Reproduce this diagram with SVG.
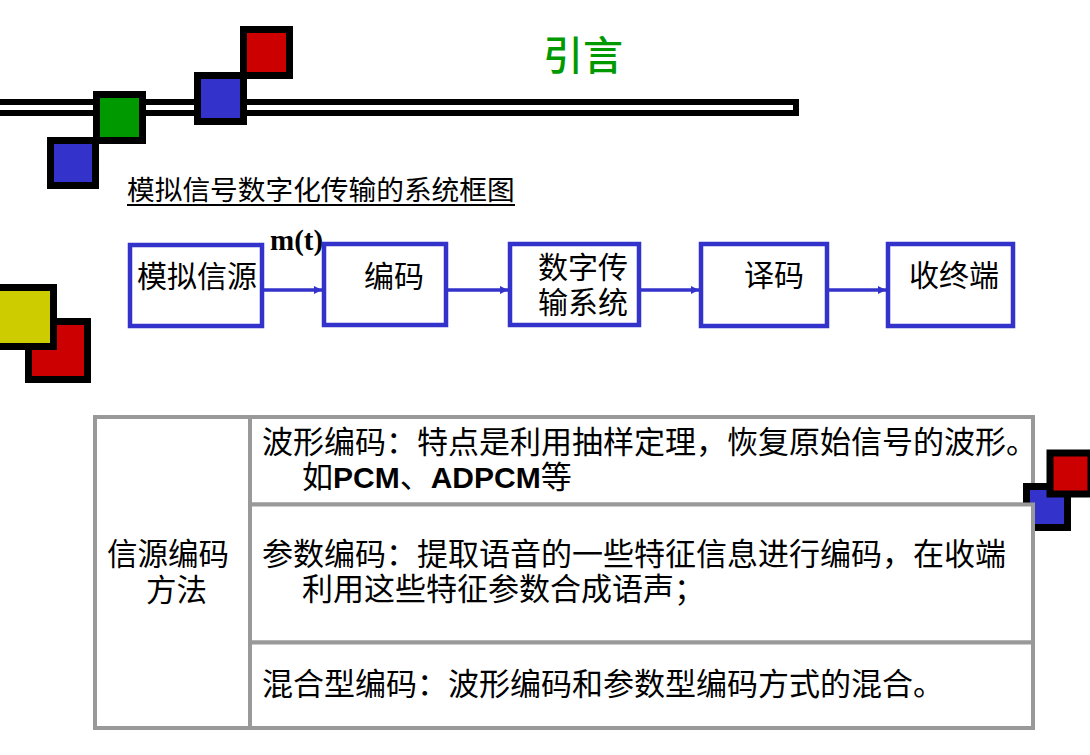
<svg xmlns="http://www.w3.org/2000/svg" width="1090" height="755" viewBox="0 0 1090 755">
<defs>
<style>
.sq{stroke:#000;stroke-width:7}
.blue{fill:#3333cc}.red{fill:#cc0000}.green{fill:#009900}.yellow{fill:#cccc00}
.box{fill:#fff;stroke:#3333cc;stroke-width:4.5}
.cell{fill:#fff;stroke:#999;stroke-width:4}
.cn{font-family:"Liberation Serif","Noto Sans CJK SC",serif;fill:#000}
.lat{font-family:"Liberation Sans",Arial,sans-serif;font-weight:bold}
.conn{stroke:#3333cc;stroke-width:3.5;fill:none}
</style>
<marker id="ah" viewBox="0 0 8 8" refX="8" refY="4" markerWidth="8" markerHeight="8" markerUnits="userSpaceOnUse" orient="auto">
<path d="M0,0 L8,4 L0,8 Z" fill="#3333cc"/>
</marker>
</defs>
<rect width="1090" height="755" fill="#fff"/>

<g id="decor-top">
<rect x="-10" y="102" width="806" height="11" fill="#fff" stroke="#000" stroke-width="6"/>
<rect class="sq green" x="96.5" y="94.5" width="46" height="46"/>
<rect class="sq blue" x="50.5" y="140.5" width="45" height="45"/>
<rect class="sq blue" x="197.5" y="75.5" width="46" height="46"/>
<rect class="sq red" x="243.5" y="29.5" width="46" height="46"/>
</g>

<g id="decor-left">
<rect class="sq red" x="28.5" y="321.5" width="59" height="58"/>
<rect class="sq yellow" x="-5.5" y="287.5" width="59" height="59"/>
</g>

<g id="title">
<text x="543" y="70" font-family="'Noto Sans CJK SC',sans-serif" font-size="40" font-weight="500" fill="#009900">引言</text>
</g>

<g id="subtitle">
<text class="cn" x="127" y="200" font-size="27.7">模拟信号数字化传输的系统框图</text>
<line x1="127" y1="205" x2="515" y2="205" stroke="#000" stroke-width="2"/>
</g>

<g id="connectors">
<line class="conn" x1="264" y1="290" x2="322" y2="290" marker-end="url(#ah)"/>
<line class="conn" x1="448" y1="290" x2="508" y2="290" marker-end="url(#ah)"/>
<line class="conn" x1="641" y1="290" x2="699" y2="290" marker-end="url(#ah)"/>
<line class="conn" x1="829" y1="290" x2="886" y2="290" marker-end="url(#ah)"/>
</g>

<g id="n-source">
<rect class="box" x="130" y="245" width="132" height="81"/>
<text class="cn" x="137" y="287" font-size="30">模拟信源</text>
</g>
<g id="mt-label">
<text x="270" y="250" font-family="'Liberation Serif',serif" font-weight="bold" font-size="29">m(t)</text>
</g>
<g id="n-encode">
<rect class="box" x="324" y="244" width="122" height="81"/>
<text class="cn" x="364" y="287" font-size="30">编码</text>
</g>
<g id="n-transmit">
<rect class="box" x="510" y="244" width="129" height="81"/>
<text class="cn" x="538" y="278" font-size="30">数字传</text>
<text class="cn" x="538" y="313" font-size="30">输系统</text>
</g>
<g id="n-decode">
<rect class="box" x="701" y="244" width="126" height="82"/>
<text class="cn" x="744" y="286" font-size="30">译码</text>
</g>
<g id="n-sink">
<rect class="box" x="888" y="244" width="125" height="82"/>
<text class="cn" x="909" y="286" font-size="30">收终端</text>
</g>

<g id="table">
<rect class="cell" x="95" y="417" width="155" height="311"/>
<rect class="cell" x="250" y="417" width="783" height="87.5"/>
<text class="cn" x="262" y="453" font-size="31">波形编码：特点是利用抽样定理，恢复原始信号的波形。</text>
<text class="cn" x="302" y="488" font-size="31">如<tspan class="lat" font-size="30">PCM</tspan>、<tspan class="lat" font-size="30">ADPCM</tspan>等</text>
</g>

<g id="decor-right">
<rect class="sq blue" x="1026.5" y="486.5" width="41" height="41"/>
<rect class="sq red" x="1050" y="453" width="41" height="41"/>
</g>

<g id="table-rows">
<rect class="cell" x="250" y="504.5" width="783" height="138"/>
<text class="cn" x="262" y="565" font-size="31">参数编码：提取语音的一些特征信息进行编码，在收端</text>
<text class="cn" x="302" y="600" font-size="31">利用这些特征参数合成语声；</text>
<rect class="cell" x="250" y="642.5" width="783" height="85.5"/>
<text class="cn" x="262" y="695" font-size="31">混合型编码：波形编码和参数型编码方式的混合。</text>
<text class="cn" x="107" y="565" font-size="30.5">信源编码</text>
<text class="cn" x="146" y="601" font-size="30.5">方法</text>
</g>
</svg>
